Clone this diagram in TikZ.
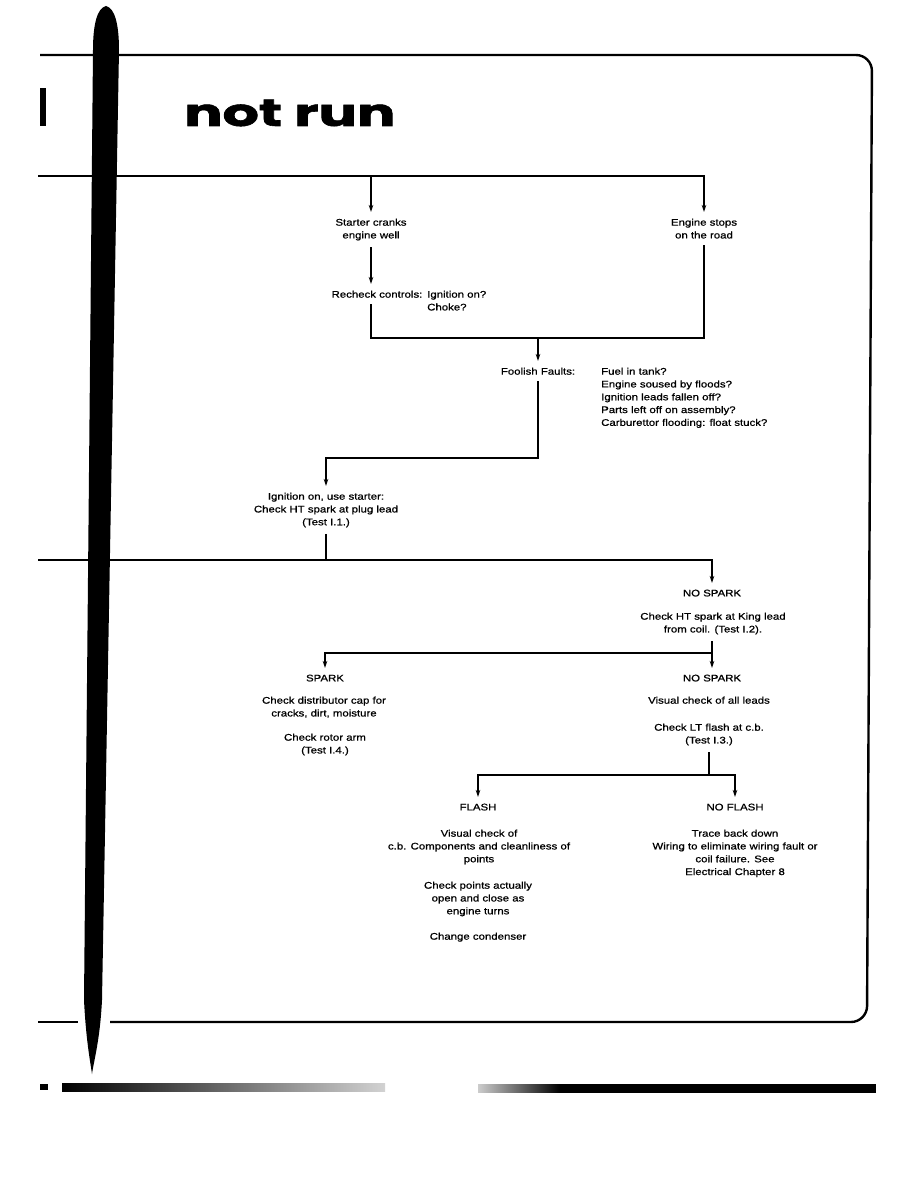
\documentclass[tikz,border=0pt]{standalone}
\usepackage{fontspec}
\usepackage{tikz}
\usetikzlibrary{arrows.meta, calc, positioning}
\newfontfamily\chartfont[FakeStretch=1.19, FakeBold=0.8]{Liberation Sans}
\newfontfamily\titlefont[FakeBold=1.5]{Poppins}
\tikzset{
  >=Stealth,
  line cap=round,
  line join=round,
  flow/.style={line width=1.2pt},
  arrow/.style={flow, -{Stealth[length=7pt, width=4.5pt]}},
  frame/.style={line width=2.4pt, rounded corners=16pt},
  stub/.style={line width=1.6pt},
  txt/.style={align=center, inner xsep=3pt, inner ysep=6.5pt, anchor=north,
    font=\chartfont\fontsize{9.6}{12.8}\selectfont},
  listtxt/.style={txt, align=left, anchor=north west}
}

\begin{document}
\begin{tikzpicture}[x=1pt, y=-1pt]
  \useasboundingbox[fill=white] (0,0) rectangle (918,1188);

  % page frame and scan marks
  \draw[frame] (40,55) -- (872,55) -- (867,1022) -- (110,1022);
  \draw[stub] (38,1022) -- (78,1022);
  \fill (40,88) rectangle (46,126);
  \shade[left color=black, right color=gray!35] (62,1083) rectangle (385,1091);
  \fill (40,1084) rectangle (48,1090);
  \shade[left color=gray!40, right color=black] (478,1084) rectangle (560,1092);
  \fill (560,1084) rectangle (876,1093);

  \node[anchor=base west, inner sep=0pt] (title) at (184,126)
    {\scalebox{1.5}[1]{\titlefont\fontsize{38}{40}\selectfont\bfseries not run}};

  % first level
  \coordinate (top0) at (38,176);
  \node[txt] (starter) at (371,212) {Starter cranks\\engine well};
  \node[txt] (stops) at (704,212) {Engine stops\\on the road};
  \draw[flow] (top0) -- (stops.north |- top0);
  \draw[arrow] (top0) -| (starter.north);
  \draw[arrow] (top0) -| (stops.north);

  \node[txt] (recheck) at (377,284) {Recheck controls:};
  \node[listtxt] (controlq) at (424,284) {Ignition on?\\Choke?};
  \draw[arrow] (starter.south) -- (recheck.north -| starter);

  \coordinate (merge1) at (538,338);
  \draw[flow] (recheck.south -| starter) |- (merge1);
  \draw[flow] (stops.south) |- (merge1);

  \node[txt] (foolish) at (538,361) {Foolish Faults:};
  \node[listtxt] (faultlist) at (598,361) {Fuel in tank?\\Engine soused by floods?\\Ignition leads fallen off?\\Parts left off on assembly?\\Carburettor flooding: float stuck?};
  \draw[arrow] (merge1) -- (foolish.north);

  \coordinate (bend1) at (538,458);
  \node[txt] (ignition) at (326,486) {Ignition on, use starter:\\Check HT spark at plug lead\\(Test I.1.)};
  \draw[arrow] (foolish.south) -- (bend1) -| (ignition.north);

  % spark tests
  \coordinate (split1) at (38,560);
  \node[txt] (nospark1) at (712,583) {NO SPARK};
  \node[txt] (kinglead) at (713,606) {Check HT spark at King lead\\from coil. (Test I.2).};
  \draw[flow] (ignition.south) -- (ignition.south |- split1);
  \draw[arrow] (split1) -| (nospark1.north);

  \coordinate (split2) at (712,653);
  \node[txt] (spark) at (325,668) {SPARK};
  \node[txt] (nospark2) at (712,668) {NO SPARK};
  \draw[flow] (kinglead.south -| split2) -- (split2);
  \draw[arrow] (split2) -| (spark.north);
  \draw[arrow] (split2) -- (nospark2.north);

  \node[txt] (distcap) at (324,690) {Check distributor cap for\\cracks, dirt, moisture};
  \node[txt] (rotor) at (325,727) {Check rotor arm\\(Test I.4.)};
  \node[txt] (leads) at (709,690) {Visual check of all leads};
  \node[txt] (ltflash) at (709,717) {Check LT flash at c.b.\\(Test I.3.)};

  % flash tests
  \coordinate (split3) at (709,775);
  \node[txt] (flash) at (478,797) {FLASH};
  \node[txt] (noflash) at (735,797) {NO FLASH};
  \draw[flow] (ltflash.south) -- (split3);
  \draw[arrow] (split3) -| (flash.north);
  \draw[arrow] (split3) -| (noflash.north);

  \node[txt] (cbcheck) at (479,823) {Visual check of\\c.b. Components and cleanliness of\\points};
  \node[txt] (points) at (478,875) {Check points actually\\open and close as\\engine turns};
  \node[txt] (condenser) at (478,926) {Change condenser};
  \node[txt] (trace) at (735,823) {Trace back down\\Wiring to eliminate wiring fault or\\coil failure. See\\Electrical Chapter 8};

  % side bar over the lines
  \fill (106,6) .. controls (97,8) and (93,25) .. (93,50) -- (84,1000)
    .. controls (86,1040) and (90,1060) .. (92,1074)
    .. controls (94,1060) and (100,1040) .. (102,1000) -- (119,50)
    .. controls (119,25) and (115,8) .. (106,6) -- cycle;
\end{tikzpicture}
\end{document}
